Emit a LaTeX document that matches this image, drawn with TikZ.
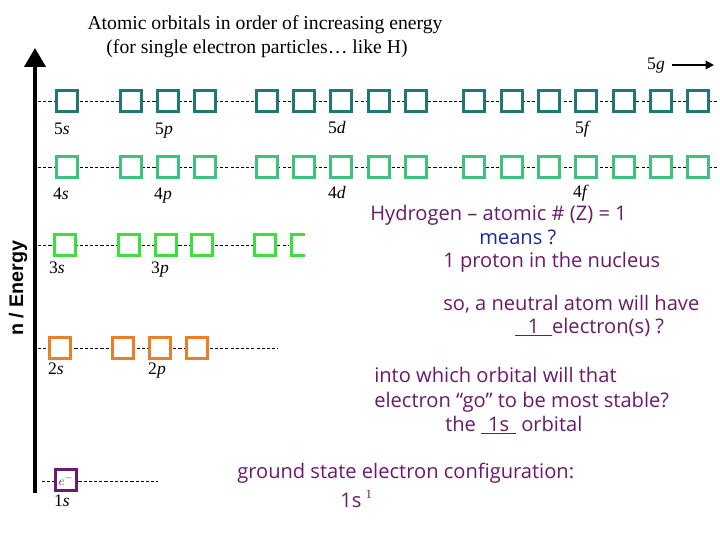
\documentclass[tikz,border=0pt]{standalone}
\usepackage{fontspec}
\setmainfont{Liberation Serif}
\setsansfont{Liberation Sans}
\newfontfamily\notefont{Open Sans}
\usepackage{xcolor}
\usetikzlibrary{arrows.meta}

\definecolor{orbteal}{RGB}{30,120,118}
\definecolor{orbmint}{RGB}{60,196,126}
\definecolor{orblime}{RGB}{60,224,60}
\definecolor{orborange}{RGB}{232,128,40}
\definecolor{orbpurple}{RGB}{110,26,114}
\definecolor{notepurple}{RGB}{106,26,106}
\definecolor{noteblue}{RGB}{28,40,160}

\begin{document}
\begin{tikzpicture}[
  x=0.025cm, y=-0.025cm,
  orb/.style={draw, fill=white, line width=2.5pt, minimum size=0.525cm, inner sep=0pt},
  lvl/.style={line width=0.6pt, dash pattern=on 2.2pt off 1.5pt},
  lbl/.style={font=\fontsize{12.5}{14}\selectfont, anchor=base, inner sep=0pt},
  note/.style={font=\notefont\fontsize{14.3}{16}\selectfont, text=notepurple, anchor=base west, inner sep=0pt},
]
\useasboundingbox (0,0) rectangle (720,540);

% title
\node[font=\fontsize{14}{16}\selectfont, anchor=base] (title1) at (265,29) {Atomic orbitals in order of increasing energy};
\node[font=\fontsize{14}{16}\selectfont, anchor=base] (title2) at (257,53) {(for single electron particles\dots\ like H)};

% energy axis
\coordinate (axlo) at (35,493);
\coordinate (axhi) at (35,48);
\draw[line width=2.8pt, -{Triangle[length=13.5pt, width=15pt]}] (axlo) -- (axhi);
\node[font=\sffamily\bfseries\fontsize{14}{16}\selectfont, rotate=90] (ylab) at (18,288) {n / Energy};

% levels
\foreach \r/\y/\xa/\xb in {5/101/38/720, 4/167/38/720, 3/245/38/289, 2/348/38/278, 1/481/42/158}{
  \coordinate (l\r w) at (\xa,\y);
  \coordinate (l\r e) at (\xb,\y);
  \draw[lvl] (l\r w) -- (l\r e);
}

% n = 5 and n = 4
\foreach \x [count=\i] in {67,131,168,205,267,304,341,379,416,474,512,549,586,624,661,698}{
  \node[orb, draw=orbteal] (o5-\i) at (\x,101) {};
  \node[orb, draw=orbmint] (o4-\i) at (\x,167) {};
}
% n = 3
\foreach \x [count=\i] in {65,129,166,202,265}{
  \node[orb, draw=orblime] (o3-\i) at (\x,245) {};
}
\begin{scope}
  \clip (280,225) rectangle (305,265);
  \node[orb, draw=orblime] (o3-6) at (302,245) {};
\end{scope}
% n = 2
\foreach \x [count=\i] in {60,123,160,197}{
  \node[orb, draw=orborange] (o2-\i) at (\x,348) {};
}
% n = 1
\node[orb, draw=orbpurple, text=orbpurple, font=\fontsize{9}{9}\selectfont] (o1-1) at (66,480) {$e^{-}$};

% subshell labels
\node[lbl] (t5s) at (62,134) {5\textit{s}};
\node[lbl] (t5p) at (164,134) {5\textit{p}};
\node[lbl] (t5d) at (337,133) {5\textit{d}};
\node[lbl] (t5f) at (583,133) {5\textit{f}};
\node[lbl] (t4s) at (61,199) {4\textit{s}};
\node[lbl] (t4p) at (163,199) {4\textit{p}};
\node[lbl] (t4d) at (337,198) {4\textit{d}};
\node[lbl] (t4f) at (581,197) {4\textit{f}};
\node[lbl] (t3s) at (57,273) {3\textit{s}};
\node[lbl] (t3p) at (160,273) {3\textit{p}};
\node[lbl] (t2s) at (56,374) {2\textit{s}};
\node[lbl] (t2p) at (157,374) {2\textit{p}};
\node[lbl] (t1s) at (62,506) {1\textit{s}};
\node[lbl] (t5g) at (656,69) {5\textit{g}};
\coordinate (g5tip) at (714,65);
\draw[line width=1.4pt, shorten <=5pt, -{Triangle[length=6pt, width=6pt]}] (t5g.east |- g5tip) -- (g5tip);

% notes
\node[note] (hyd) at (370,220) {Hydrogen – atomic \# (Z) = 1};
\node[note, text=noteblue] (means) at (479,244) {means ?};
\node[note] (proton) at (443,267) {1 proton in the nucleus};
\node[note] (neutral) at (443,310) {so, a neutral atom will have};
\node[note] (elec) at (515,333) {\underline{\makebox[0.92cm]{1}}electron(s) ?};
\node[note] (into) at (374,382) {into which orbital will that};
\node[note] (stable) at (374,407) {electron “go” to be most stable?};
\node[note] (orbital) at (445,431) {the \underline{\makebox[0.87cm]{1s}} orbital};
\node[note] (ground) at (237,478) {ground state electron configuration:};
\node[note] (config) at (340,507) {1s\hspace{3pt}\raisebox{6pt}{\rmfamily\fontsize{9}{9}\selectfont 1}};
\end{tikzpicture}
\end{document}
